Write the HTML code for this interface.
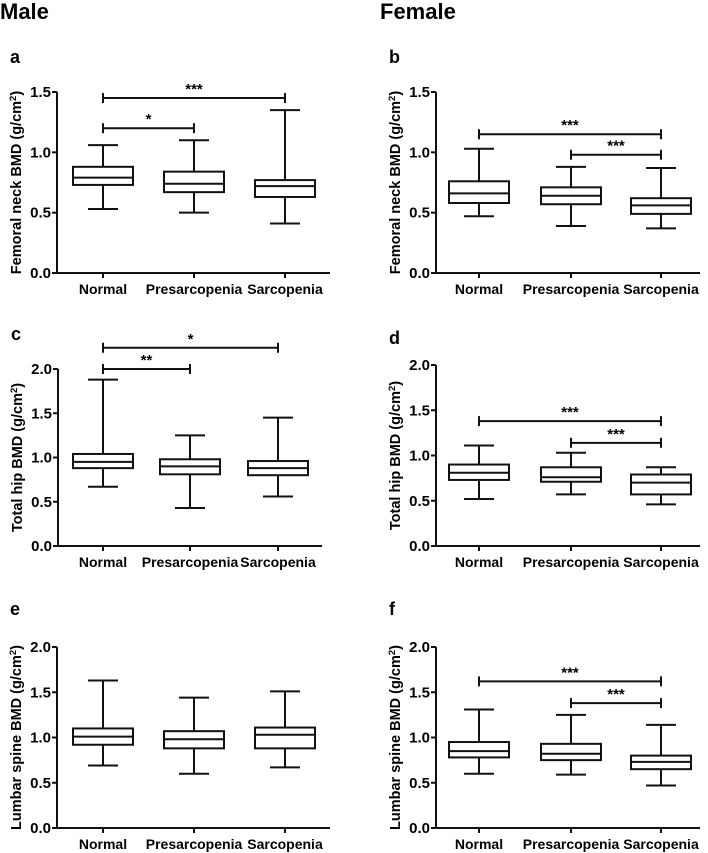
<!DOCTYPE html>
<html><head><meta charset="utf-8"><style>
body{margin:0;background:#fff}
svg{display:block;font-family:"Liberation Sans",Arial,sans-serif;font-weight:bold}
</style></head><body>
<svg id="fig" width="708" height="853" viewBox="0 0 708 853" xmlns="http://www.w3.org/2000/svg">
<text x="0" y="19" font-size="22">Male</text>
<text x="380" y="19" font-size="22">Female</text>
</svg>
<script>
const categories=["Normal","Presarcopenia","Sarcopenia"];
// [min,q1,median,q3,max] per category
const panelA=[[0.53,0.73,0.79,0.88,1.06],[0.50,0.67,0.74,0.84,1.10],[0.41,0.63,0.72,0.77,1.35]];
const panelB=[[0.47,0.58,0.66,0.76,1.03],[0.39,0.57,0.64,0.71,0.88],[0.37,0.49,0.56,0.62,0.87]];
const panelC=[[0.67,0.88,0.95,1.04,1.88],[0.43,0.81,0.90,0.98,1.25],[0.56,0.80,0.88,0.96,1.45]];
const panelD=[[0.52,0.73,0.81,0.90,1.11],[0.57,0.71,0.76,0.87,1.03],[0.46,0.57,0.70,0.79,0.87]];
const panelE=[[0.69,0.92,1.01,1.10,1.63],[0.60,0.88,0.98,1.07,1.44],[0.67,0.88,1.03,1.11,1.51]];
const panelF=[[0.60,0.78,0.85,0.95,1.31],[0.59,0.75,0.82,0.93,1.25],[0.47,0.65,0.73,0.80,1.14]];
// brackets: [fromIdx,toIdx,yValue,label]
const bracketsA=[[0,2,1.45,"***"],[0,1,1.20,"*"]];
const bracketsB=[[0,2,1.15,"***"],[1,2,0.98,"***"]];
const bracketsC=[[0,2,2.24,"*"],[0,1,2.0,"**"]];
const bracketsD=[[0,2,1.38,"***"],[1,2,1.14,"***"]];
const bracketsE=[];
const bracketsF=[[0,2,1.62,"***"],[1,2,1.38,"***"]];
const ticks15=[0,0.5,1.0,1.5], ticks20=[0,0.5,1.0,1.5,2.0];

const NS="http://www.w3.org/2000/svg", svg=document.getElementById('fig');
function mk(tag,attrs,parent,txt){const e=document.createElementNS(NS,tag);for(const k in attrs)e.setAttribute(k,attrs[k]);if(txt!=null)e.textContent=txt;(parent||svg).appendChild(e);return e;}
function line(g,x1,y1,x2,y2){return mk('line',{x1,y1,x2,y2,stroke:'#111','stroke-width':2},g);}

function panel(letter,ax,zeroY,H,axLen,offs,letterY,ymax,ticks,data,brackets,ylabel){
  const g=mk('g',{});
  
  
  const y=v=>zeroY-v/ymax*H;
  const x=i=>ax+offs[i];
  const lt=mk('text',{x:ax-47,y:letterY,'font-size':18},g,letter);
  
  
  line(g,ax,zeroY+1,ax,y(ticks[ticks.length-1]));
  line(g,ax-1,zeroY,ax+axLen,zeroY);
  ticks.forEach(t=>{line(g,ax-5,y(t),ax,y(t));
    const tl=mk('text',{x:ax-6,y:y(t)+5,'font-size':15,'text-anchor':'end'},g,t.toFixed(1));
    
    });
  categories.forEach((c,i)=>{line(g,x(i),zeroY,x(i),zeroY+5);
    const cl=mk('text',{x:x(i),y:zeroY+21,'font-size':14,'text-anchor':'middle'},g,c);
    
    });
  const yl=mk('text',{transform:`translate(${ax-36},${zeroY-H/2}) rotate(-90)`,'font-size':14.5,'text-anchor':'middle'},g);
  
  
  yl.appendChild(document.createTextNode(ylabel+' (g/cm'));
  mk('tspan',{dy:-5,'font-size':9.5},yl,'2');
  mk('tspan',{dy:5},yl,')');
  data.forEach((d,i)=>{
    const bg=mk('g',{},g);
    
    
    const cx=x(i),hw=30,cw=15;
    line(bg,cx,y(d[0]),cx,y(d[1]));line(bg,cx,y(d[3]),cx,y(d[4]));
    line(bg,cx-cw,y(d[0]),cx+cw,y(d[0]));line(bg,cx-cw,y(d[4]),cx+cw,y(d[4]));
    mk('rect',{x:cx-hw,y:y(d[3]),width:2*hw,height:y(d[1])-y(d[3]),fill:'none',stroke:'#111','stroke-width':2},bg);
    line(bg,cx-hw,y(d[2]),cx+hw,y(d[2]));
  });
  brackets.forEach(b=>{
    const bg=mk('g',{},g);
    
    
    const yy=y(b[2]);
    line(bg,x(b[0]),yy,x(b[1]),yy);
    line(bg,x(b[0]),yy-5,x(b[0]),yy+5);line(bg,x(b[1]),yy-5,x(b[1]),yy+5);
    mk('text',{x:(x(b[0])+x(b[1]))/2,y:yy-4,'font-size':15,'text-anchor':'middle'},bg,b[3]);
  });
}
panel('a',57,273,181,273,[46,137,228],63,1.5,ticks15,panelA,bracketsA,'Femoral neck BMD');
panel('b',436,273,181,264,[43,135,225],63,1.5,ticks15,panelB,bracketsB,'Femoral neck BMD');
panel('c',58,546,177,264,[45,132,220],340,2.0,ticks20,panelC,bracketsC,'Total hip BMD');
panel('d',436,546,181,264,[43,135,225],344,2.0,ticks20,panelD,bracketsD,'Total hip BMD');
panel('e',57,828,181,273,[46,137,228],615,2.0,ticks20,panelE,bracketsE,'Lumbar spine BMD');
panel('f',436,828,181,264,[43,135,225],615,2.0,ticks20,panelF,bracketsF,'Lumbar spine BMD');
</script>
</body></html>
